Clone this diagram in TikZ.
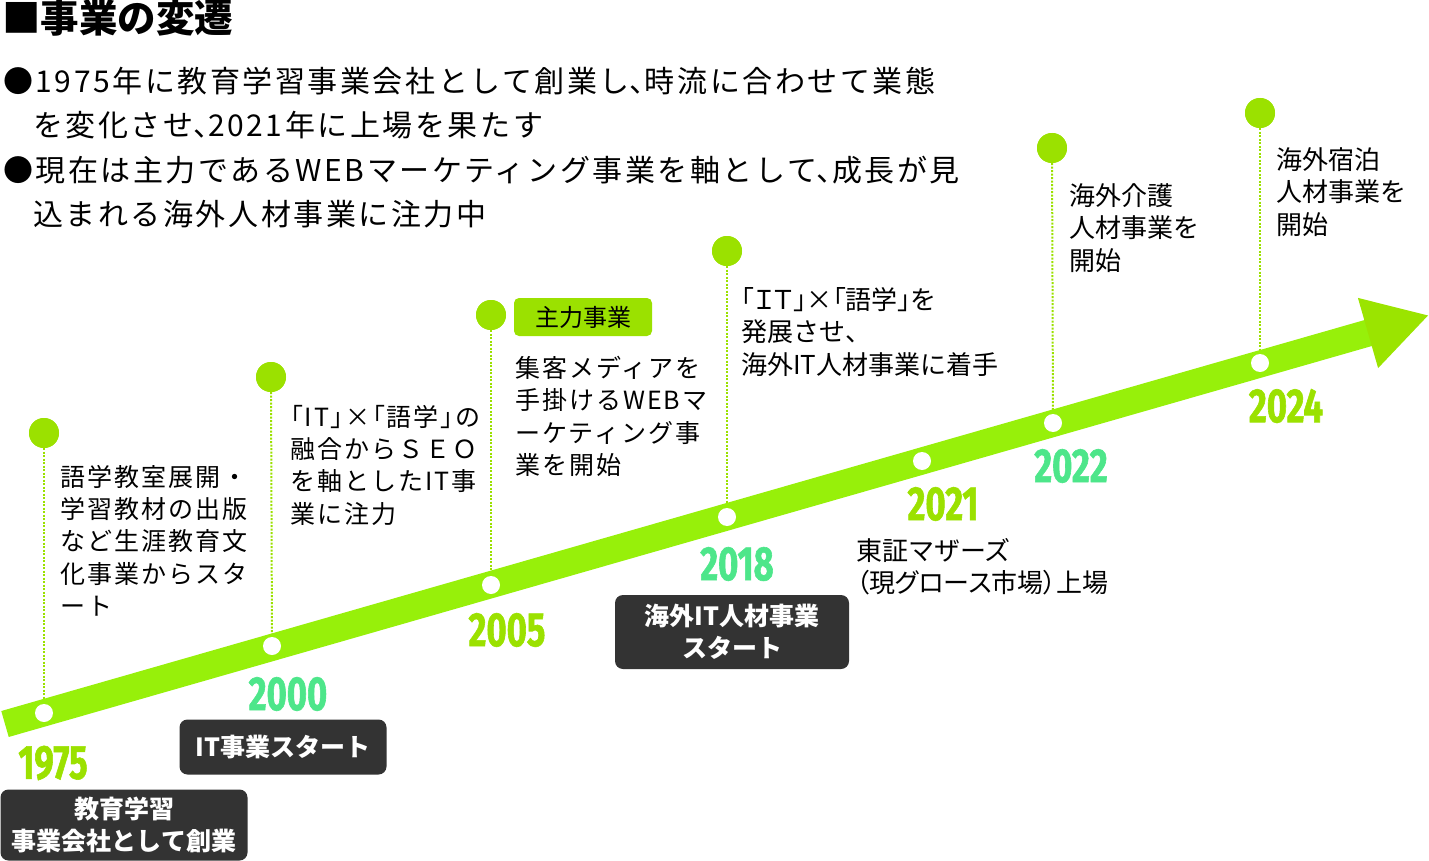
\documentclass[tikz,border=0pt]{standalone}
\usepackage{fontspec}
\setmainfont{Noto Sans CJK JP}
\newfontfamily\jpls[LetterSpace=8]{Noto Sans CJK JP}
\newfontfamily\jplsp[LetterSpace=8,RawFeature=+palt]{Noto Sans CJK JP}
\newfontfamily\jpp[RawFeature=+palt]{Noto Sans CJK JP}
\newfontfamily\jpbul[LetterSpace=8.5]{Noto Sans CJK JP}
\newfontfamily\jpbulp[LetterSpace=8.5,RawFeature=+palt]{Noto Sans CJK JP}
\newfontfamily\yearfont[FakeStretch=0.72,FakeBold=1.2]{Fira Sans}
\newcommand\bcomma{{\jpbulp 、}}
\definecolor{bandgreen}{RGB}{151,240,10}
\definecolor{headgreen}{RGB}{155,228,0}
\definecolor{lime}{RGB}{155,225,0}
\definecolor{mint}{RGB}{77,230,138}
\definecolor{darkbox}{RGB}{51,51,51}
\begin{document}
\begin{tikzpicture}[x=1pt,y=-1pt,
  topdot/.style={circle,fill=lime,minimum size=30pt,inner sep=0},
  wdot/.style={circle,fill=white,minimum size=18pt,inner sep=0},
  dotline/.style={lime,line width=2pt,dash pattern=on 2pt off 1.5pt},
  band/.style={bandgreen,line width=27pt,line cap=butt},
  yearlime/.style={text=lime,font=\yearfont\bfseries\fontsize{48}{48}\selectfont,inner sep=0},
  yearmint/.style={text=mint,font=\yearfont\bfseries\fontsize{48}{48}\selectfont,inner sep=0},
  desc/.style={anchor=north west,align=left,inner sep=0,font=\fontsize{26}{32.5}\selectfont},
  descls/.style={anchor=north west,align=left,inner sep=0,font=\jpls\fontsize{25}{32.3}\selectfont},
  darklabel/.style={fill=darkbox,rounded corners=8pt,text=white,align=center,inner sep=0,font=\bfseries\fontsize{25}{32.5}\selectfont},
  greenlabel/.style={fill=lime,rounded corners=5pt,text=black,align=center,inner sep=0,font=\fontsize{24}{28}\selectfont}
]
\useasboundingbox (0,0) rectangle (1429,861);

% heading and bullets
\node[anchor=west,inner sep=0,font=\bfseries\fontsize{38.5}{40}\selectfont] (title) at (2,18) {■事業の変遷};
\node[anchor=north west,align=left,inner sep=0,font=\jpbul\fontsize{30}{44.3}\selectfont] (bullets) at (3,67)
 {●1975年に教育学習事業会社として創業し\bcomma 時流に合わせて業態\\
  \phantom{●}を変化させ\bcomma 2021年に上場を果たす\\
  ●現在は主力であるWEBマーケティング事業を軸として\bcomma 成長が見\\
  \phantom{●}込まれる海外人材事業に注力中};

% positions
\node[topdot] (d1975) at (44,433) {};
\node[topdot] (d2000) at (271,377) {};
\node[topdot] (d2005) at (491,315) {};
\node[topdot] (d2018) at (727,251) {};
\node[topdot] (d2022) at (1052,148) {};
\node[topdot] (d2024) at (1260,113) {};

\coordinate (bstart) at (5,724);
\coordinate (bend) at (1370,332.5);
\coordinate (h1) at (1357.9,297.9);
\coordinate (h2) at (1378.1,368.1);
\coordinate (h3) at (1428,315.5);

\node[wdot] (w1975) at (44,713) {};
\node[wdot] (w2000) at (272,646) {};
\node[wdot] (w2005) at (491,585) {};
\node[wdot] (w2018) at (727,517) {};
\node[wdot] (w2021) at (922,461) {};
\node[wdot] (w2022) at (1053,423) {};
\node[wdot] (w2024) at (1260,363) {};

% dotted connectors (drawn under band)
\draw[dotline] (d1975) -- (w1975);
\draw[dotline] (d2000) -- (w2000);
\draw[dotline] (d2005) -- (w2005);
\draw[dotline] (d2018) -- (w2018);
\draw[dotline] (d2022) -- (w2022);
\draw[dotline] (d2024) -- (w2024);

% band and arrow head
\draw[band] (bstart) -- (bend);
\fill[headgreen] (h1) -- (h3) -- (h2) -- cycle;

% redraw dots on top
\foreach \n in {w1975,w2000,w2005,w2018,w2021,w2022,w2024}{\fill[white] (\n) circle (9pt);}
\foreach \n in {d1975,d2000,d2005,d2018,d2022,d2024}{\fill[lime] (\n) circle (15pt);}

% years
\node[yearlime] (y1975) at (53,763) {1975};
\node[yearmint] (y2000) at (288,694) {2000};
\node[yearlime] (y2005) at (507,630) {2005};
\node[yearmint] (y2018) at (737,564) {2018};
\node[yearlime] (y2021) at (943,504) {2021};
\node[yearmint] (y2022) at (1071,466) {2022};
\node[yearlime] (y2024) at (1286,406) {2024};

% descriptions
\node[descls] (t1975) at (60,465) {語学教室展開・\\学習教材の出版\\など生涯教育文\\化事業からスタ\\ート};
\node[descls] (t2000) at (290,405) {{\jplsp 「IT」×「語学」の}\\融合からＳＥＯ\\を軸としたIT事\\業に注力};
\node[descls] (t2005) at (515,356) {集客メディアを\\手掛けるWEBマ\\ーケティング事\\業を開始};
\node[desc] (t2018) at (741,287) {{\jpp 「ＩＴ」×「語学」を}\\発展させ、\\海外IT人材事業に着手};
\node[desc] (t2021) at (856,538) {東証マザーズ\\{\jpp （現グロース市場）上場}};
\node[desc] (t2022) at (1069,183) {海外介護\\人材事業を\\開始};
\node[desc] (t2024) at (1276,147) {海外宿泊\\人材事業を\\開始};

% labels
\node[darklabel,minimum width=247pt,minimum height=71pt] (b1975) at (124,825) {教育学習\\事業会社として創業};
\node[darklabel,minimum width=207pt,minimum height=55pt] (b2000) at (283,747) {IT事業スタート};
\node[darklabel,minimum width=234pt,minimum height=74pt] (b2018) at (732,632) {海外IT人材事業\\スタート};
\node[greenlabel,minimum width=138pt,minimum height=38pt] (g2005) at (583,317) {主力事業};
\end{tikzpicture}
\end{document}
